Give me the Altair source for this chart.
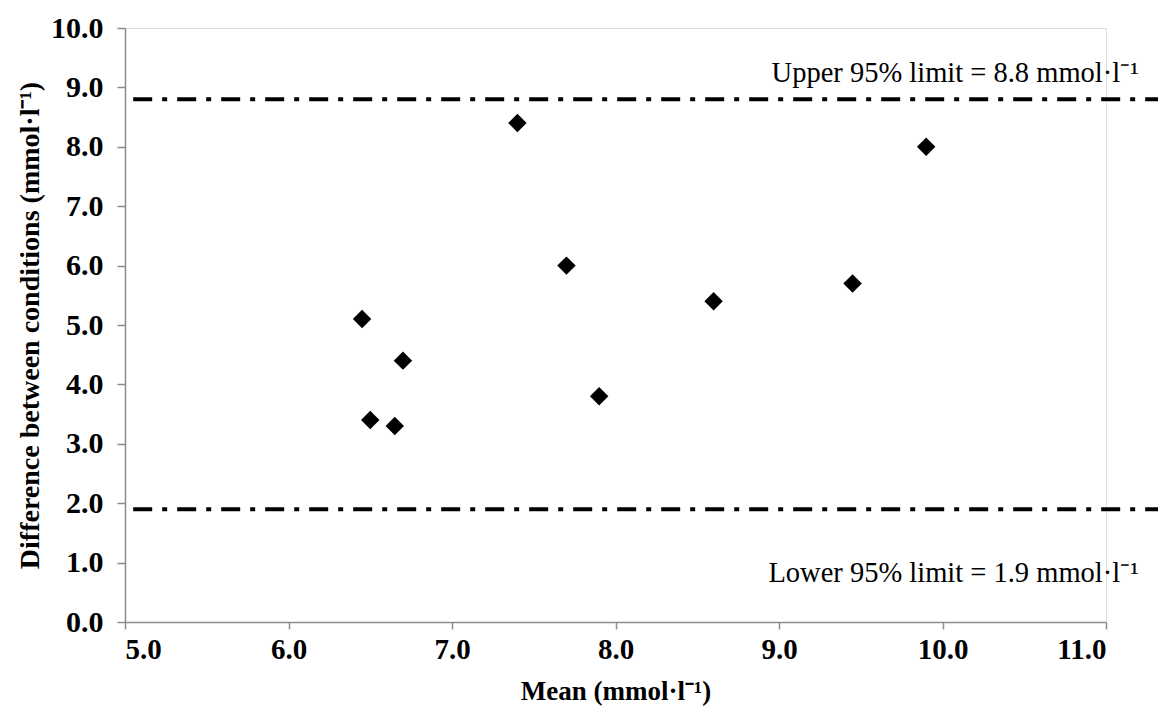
import altair as alt
import pandas as pd

mean_vals = [6.45, 6.5, 6.65, 6.7, 7.4, 7.7, 7.9, 8.6, 9.45, 9.9]
diff_vals = [5.1, 3.4, 3.3, 4.4, 8.4, 6.0, 3.8, 5.4, 5.7, 8.0]

limit_vals = [8.8, 1.9]
limit_labels = ["Upper 95% limit = 8.8 mmol·l⁻¹", "Lower 95% limit = 1.9 mmol·l⁻¹"]

pts = pd.DataFrame({"mean": mean_vals, "diff": diff_vals})
lims = pd.DataFrame({"y": limit_vals, "label": limit_labels, "x0": [5.05, 5.05], "x1": [11.4, 11.4], "xt": [11.2, 11.2]})

FONT = "Liberation Serif"
xscale = alt.Scale(domain=[5, 11], nice=False, zero=False)
yscale = alt.Scale(domain=[0, 10], nice=False, zero=True)

points = alt.Chart(pts).mark_point(shape="diamond", filled=True, color="black", size=340, opacity=1).encode(
    x=alt.X("mean:Q", scale=xscale,
            axis=alt.Axis(title="Mean (mmol·l⁻¹)", values=[5, 6, 7, 8, 9, 10, 11], format=".1f",
                          grid=False, domainColor="#8c8c8c", tickColor="#8c8c8c", tickSize=7,
                          domainWidth=1.5, tickWidth=1.5,
                          labelFont=FONT, labelFontSize=29, labelFontWeight="bold", labelColor="black",
                          labelPadding=6, titleFont=FONT, titleFontSize=27, titleFontWeight="bold",
                          titleColor="black", titlePadding=14)),
    y=alt.Y("diff:Q", scale=yscale,
            axis=alt.Axis(title="Difference between conditions (mmol·l⁻¹)", values=list(range(0, 11)),
                          format=".1f", grid=False, domainColor="#8c8c8c", tickColor="#8c8c8c", tickSize=8,
                          domainWidth=1.5, tickWidth=1.5,
                          labelFont=FONT, labelFontSize=30, labelFontWeight="bold", labelColor="black",
                          labelPadding=14, titleFont=FONT, titleFontSize=28, titleFontWeight="bold",
                          titleColor="black", titlePadding=6)),
)

rules = alt.Chart(lims).mark_rule(color="black", strokeWidth=4, strokeDash=[19, 10, 5, 10], clip=False).encode(
    x=alt.X("x0:Q", scale=xscale), x2="x1:Q", y=alt.Y("y:Q", scale=yscale)
)

upper = alt.Chart(lims.iloc[[0]]).mark_text(font=FONT, fontSize=28.5, align="right", baseline="alphabetic",
                                             dy=-17, color="black").encode(
    x=alt.X("xt:Q", scale=xscale), y=alt.Y("y:Q", scale=yscale), text="label:N"
)
lower = alt.Chart(lims.iloc[[1]]).mark_text(font=FONT, fontSize=28.5, align="right", baseline="alphabetic",
                                             dy=73, color="black").encode(
    x=alt.X("xt:Q", scale=xscale), y=alt.Y("y:Q", scale=yscale), text="label:N"
)

chart = alt.layer(rules, points, upper, lower).properties(
    width=981, height=594,
    autosize=alt.AutoSizeParams(type="none"),
    padding={"left": 125, "top": 28, "right": 52, "bottom": 89},
).configure_view(stroke=None).configure(background="white")

chart.save("out.html", embed_options={"renderer": "svg", "actions": False})
